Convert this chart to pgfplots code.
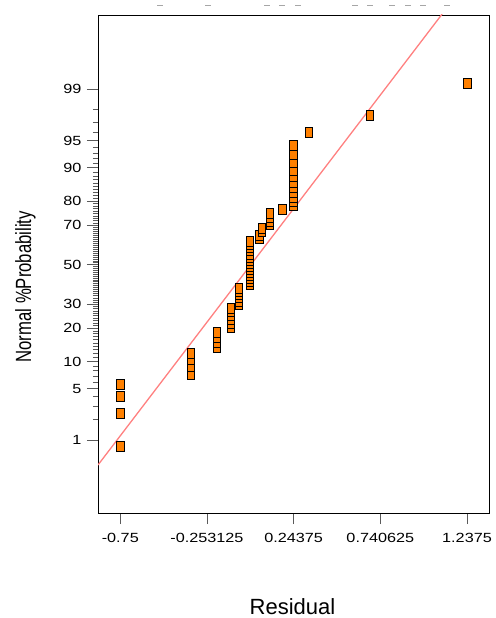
\documentclass[border=0pt]{standalone}
\usepackage{pgfplots}
\pgfplotsset{compat=1.18}
\usepackage{pgfplotstable}
\usepackage{fontspec}
\setmainfont{Liberation Sans}
\newfontfamily\tickfont[FakeStretch=1.22]{Liberation Sans}
\newfontfamily\ylabfont[FakeStretch=0.76]{Liberation Sans}
\definecolor{ptorange}{RGB}{255,128,0}
\definecolor{fitline}{RGB}{255,128,128}
\definecolor{axgray}{RGB}{90,90,90}

\pgfplotstableread{
x z
-0.75 -2.406
-0.75 -1.974
-0.75 -1.748
-0.75 -1.585
-0.345 -1.457
-0.345 -1.349
-0.345 -1.254
-0.345 -1.170
-0.196 -1.093
-0.196 -1.023
-0.196 -0.957
-0.196 -0.895
-0.116 -0.836
-0.116 -0.780
-0.116 -0.726
-0.116 -0.674
-0.116 -0.624
-0.116 -0.576
-0.070 -0.529
-0.070 -0.483
-0.070 -0.438
-0.070 -0.394
-0.070 -0.351
-0.070 -0.308
-0.007 -0.266
-0.007 -0.224
-0.007 -0.183
-0.007 -0.142
-0.007 -0.101
-0.007 -0.061
-0.007 -0.020
-0.007 0.020
-0.007 0.061
-0.007 0.101
-0.007 0.142
-0.007 0.183
-0.007 0.224
-0.007 0.266
-0.007 0.308
0.047 0.351
0.047 0.394
0.062 0.438
0.062 0.483
0.108 0.529
0.108 0.576
0.108 0.624
0.108 0.674
0.180 0.726
0.243 0.780
0.243 0.836
0.243 0.895
0.243 0.957
0.243 1.023
0.243 1.093
0.243 1.170
0.243 1.254
0.243 1.349
0.243 1.457
0.243 1.585
0.331 1.748
0.681 1.974
1.2375 2.406
}\resid

\begin{document}
\begin{tikzpicture}
\useasboundingbox (0,0) rectangle (495pt,-618pt);
\begin{axis}[
  at={(98pt,-513pt)}, anchor=south west,
  scale only axis, width=391.3pt, height=498pt,
  xmin=-0.8778, xmax=1.3653, ymin=-3.289, ymax=3.307,
  axis line style={black, line width=0.8pt},
  tick align=outside,
  tick style={axgray, line width=0.8pt},
  major tick length=11pt, minor tick length=5pt,
  xtick={-0.75,-0.253125,0.24375,0.740625,1.2375},
  xticklabels={-0.75,-0.253125,0.24375,0.740625,1.2375},
  ytick={-2.326,-1.645,-1.282,-0.842,-0.524,0,0.524,0.842,1.282,1.645,2.326},
  yticklabels={1,5,10,20,30,50,70,80,90,95,99},
  minor ytick={-2.054,-1.881,-1.751,-1.555,-1.476,-1.405,-1.341,-1.227,-1.175,-1.126,-1.080,-1.036,-0.994,-0.954,-0.915,-0.878,-0.806,-0.772,-0.739,-0.706,-0.674,-0.643,-0.613,-0.583,-0.553,-0.496,-0.468,-0.440,-0.412,-0.385,-0.358,-0.332,-0.305,-0.279,-0.253,-0.228,-0.202,-0.176,-0.151,-0.126,-0.100,-0.075,-0.050,-0.025,
  2.054,1.881,1.751,1.555,1.476,1.405,1.341,1.227,1.175,1.126,1.080,1.036,0.994,0.954,0.915,0.878,0.806,0.772,0.739,0.706,0.674,0.643,0.613,0.583,0.553,0.496,0.468,0.440,0.412,0.385,0.358,0.332,0.305,0.279,0.253,0.228,0.202,0.176,0.151,0.126,0.100,0.075,0.050,0.025},
  xtick pos=bottom, ytick pos=left,
  ticklabel style={font=\tickfont\fontsize{13.3}{15}\selectfont, black},
  xticklabel style={yshift=-6pt},
  yticklabel style={xshift=-2pt},
  clip=true,
]
\addplot[fitline, line width=1.3pt] coordinates {(-0.8778,-2.653) (1.095,3.32)};
\addplot[only marks, mark=square*, mark size=5pt,
  mark options={xscale=0.78, fill=ptorange, draw=black, line width=0.8pt}]
  table[x=x, y=z] {\resid};
\end{axis}
\node[anchor=base, font=\fontsize{22}{26}\selectfont] at (292.5pt,-614pt) {Residual};
\node[anchor=base, rotate=90, font=\ylabfont\fontsize{22}{26}\selectfont] at (31pt,-286.7pt) {Normal \%Probability};
\foreach \xx in {160,208,267,282,298,355,370,392,408,423,447}
  \draw[gray!70, line width=1pt] (\xx pt-3pt,-6pt) -- (\xx pt+3pt,-6pt);
\end{tikzpicture}
\end{document}
